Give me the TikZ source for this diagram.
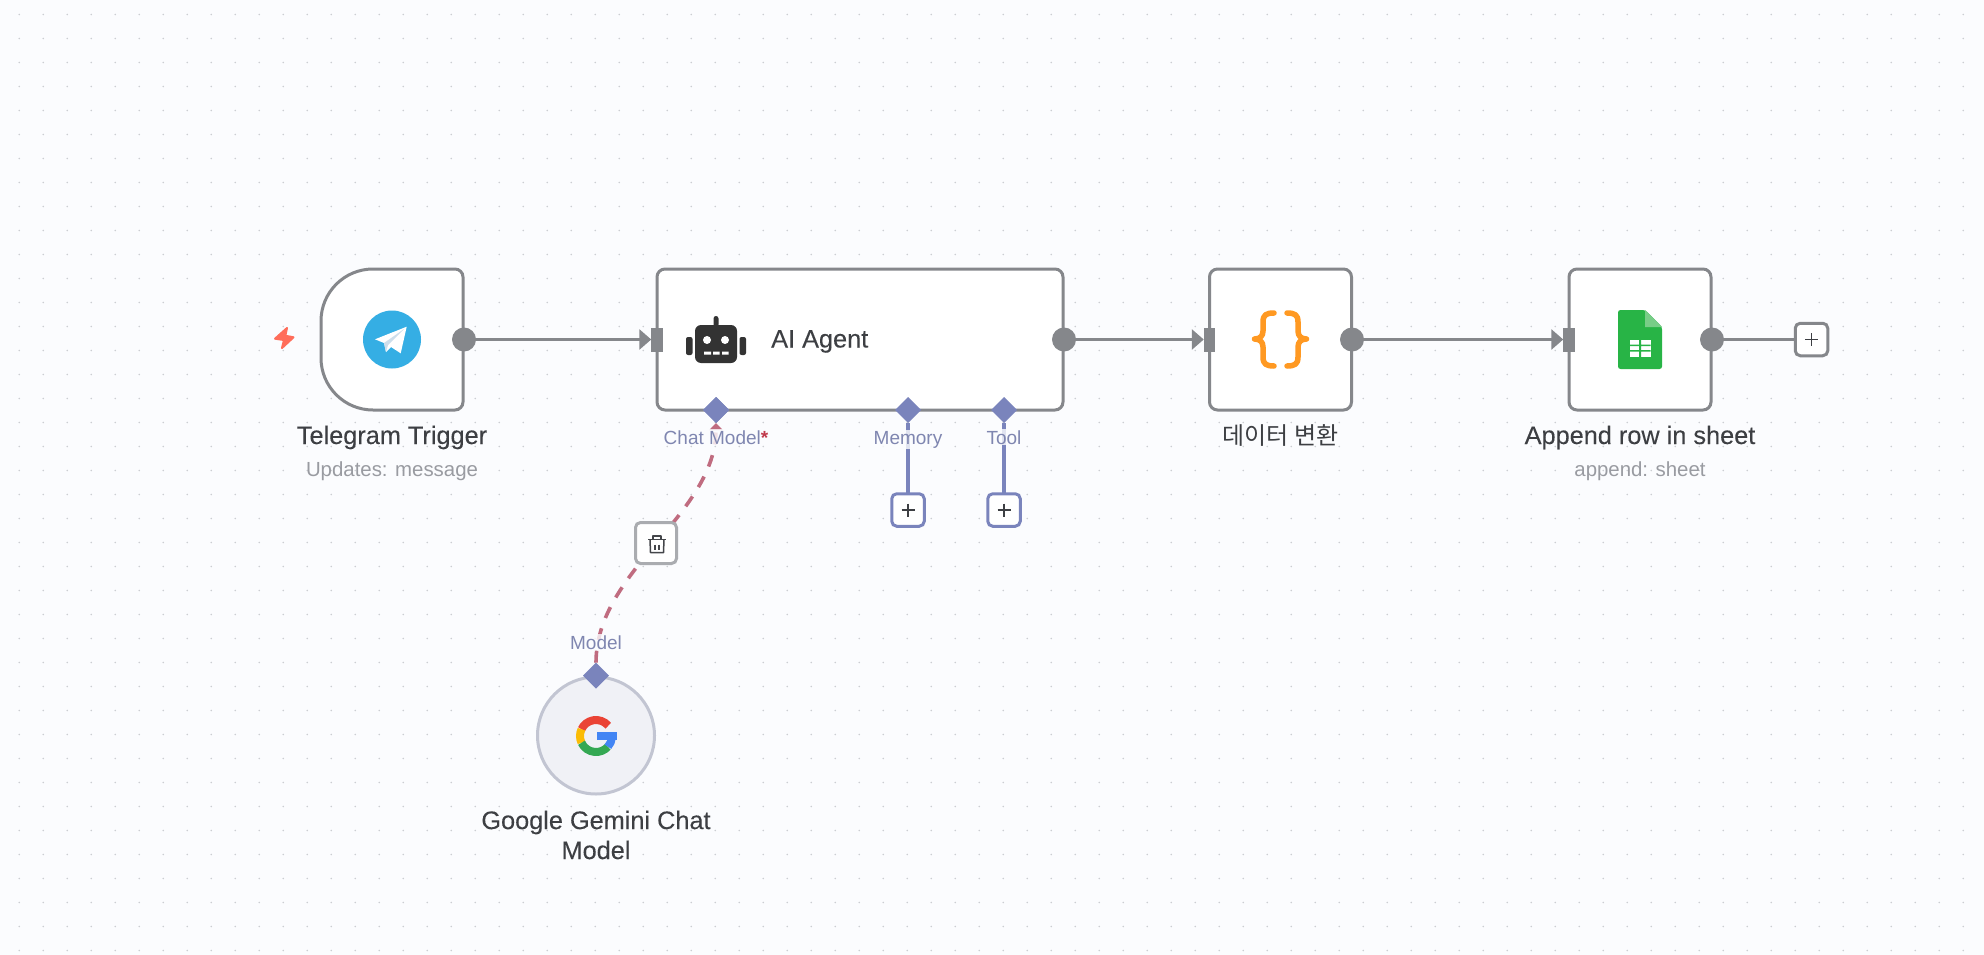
\documentclass[tikz,border=0pt]{standalone}
\usepackage{fontspec}
\setmainfont{Liberation Sans}
\newfontfamily\titlefont[FakeBold=0.08]{Liberation Sans}
\newfontfamily\krfont{Noto Sans CJK KR}
\usetikzlibrary{arrows.meta,shapes.geometric,calc}
\definecolor{bg}{HTML}{FBFCFE}
\definecolor{griddot}{HTML}{CCCED2}
\definecolor{edge}{HTML}{85878B}
\definecolor{purp}{HTML}{7A84BC}
\definecolor{pinkline}{HTML}{C06C80}
\definecolor{txt}{HTML}{3D3F43}
\definecolor{subt}{HTML}{999BA1}
\definecolor{labc}{HTML}{7F86B0}
\definecolor{circf}{HTML}{F0F1F6}
\definecolor{circd}{HTML}{C2C5D2}
\definecolor{trashb}{HTML}{AAACB0}
\definecolor{trashi}{HTML}{44464A}
\definecolor{coral}{HTML}{FF6D5A}
\definecolor{tgblue}{HTML}{35AEE4}
\definecolor{tgfold}{HTML}{CDDEEB}
\definecolor{robot}{HTML}{333333}
\definecolor{brace}{HTML}{FF9922}
\definecolor{sgreen}{HTML}{28B446}
\definecolor{sfold}{HTML}{78CD87}
\definecolor{gred}{HTML}{EA4335}
\definecolor{gyel}{HTML}{FBBC05}
\definecolor{ggrn}{HTML}{34A853}
\definecolor{gblu}{HTML}{4285F4}
\definecolor{reqred}{HTML}{C0394B}
\tikzset{
 nodebox/.style={draw=edge,line width=3pt,fill=white,rounded corners=8pt,minimum height=141pt,inner sep=0pt,outer sep=0pt},
 outdot/.style={circle,fill=edge,minimum size=24pt,inner sep=0pt,outer sep=0pt},
 inport/.style={rectangle,fill=edge,minimum width=11.5pt,minimum height=24pt,inner sep=0pt,outer sep=0pt},
 conn/.style={draw=edge,fill=edge,line width=3.5pt,-{Triangle[length=12pt,width=20pt,fill=edge]}},
 plainline/.style={draw=edge,line width=3.5pt},
 subline/.style={draw=purp,line width=3.5pt},
 diam/.style={diamond,fill=purp,minimum width=26pt,minimum height=26pt,inner sep=0pt,outer sep=0pt,aspect=1},
 plusbox/.style={rectangle,draw=#1,line width=3pt,fill=white,rounded corners=5pt,minimum size=32.5pt,inner sep=0pt,outer sep=0pt},
 title/.style={text=txt,font=\fontsize{25.3}{30}\titlefont,anchor=base,inner sep=0pt},
 subtitle/.style={text=subt,font=\fontsize{20.4}{24}\selectfont,anchor=base,inner sep=0pt},
 portlabel/.style={text=labc,font=\fontsize{19}{23}\selectfont,anchor=base,fill=bg,fill opacity=.8,text opacity=1,inner sep=1pt},
}
\begin{document}
\begin{tikzpicture}[x=1pt,y=-1pt]
\fill[bg] (0,0) rectangle (1984,955);
\useasboundingbox (0,0) rectangle (1984,955);
\foreach \i in {0,...,82}{\foreach \j in {0,...,39}{\fill[griddot] ({19.3+24*\i},{14.5+24*\j}) circle[radius=.85pt];}}

% main nodes
\node[minimum width=142pt,minimum height=141pt,inner sep=0pt,outer sep=0pt] (tg) at (392,339.5) {};
\draw[draw=edge,line width=3pt,fill=white] (tg.north) -- ($(tg.north east)+(-8,0)$) arc[start angle=90,end angle=0,radius=8pt]
 -- ($(tg.south east)+(0,-8)$) arc[start angle=0,end angle=-90,radius=8pt]
 -- ($(tg.south west)+(52,0)$) arc[start angle=270,end angle=180,radius=52pt]
 -- ($(tg.north west)+(0,52)$) arc[start angle=180,end angle=90,radius=52pt] -- cycle;
\node[nodebox,minimum width=406pt] (ag) at (860,339.5) {};
\node[nodebox,minimum width=142pt] (code) at (1280.5,339.5) {};
\node[nodebox,minimum width=142pt] (sheet) at (1640,339.5) {};

% ports
\node[outdot] (tgout) at ([xshift=1pt]tg.east) {};
\node[outdot] (agout) at ([xshift=1pt]ag.east) {};
\node[outdot] (codeout) at ([xshift=.5pt]code.east) {};
\node[outdot] (sheetout) at ([xshift=1pt]sheet.east) {};
\node[inport] (agin) at (ag.west) {};
\node[inport] (codein) at (code.west) {};
\node[inport] (sheetin) at (sheet.west) {};

\draw[conn] (tgout) -- (agin);
\draw[conn] (agout) -- (codein);
\draw[conn] (codeout) -- (sheetin);

\node[plusbox=edge] (plusend) at (1811.5,339.5) {};
\draw[plainline] (sheetout) -- (plusend);
\draw[line width=1.2pt,draw=txt] ($(plusend)+(-6.5,0)$) -- ($(plusend)+(6.5,0)$) ($(plusend)+(0,-6.5)$) -- ($(plusend)+(0,6.5)$);

% sub ports
\node[plusbox=purp] (plusmem) at (908,510) {};
\node[plusbox=purp] (plustool) at (1004,510) {};
\draw[line width=1.2pt,draw=txt] ($(plusmem)+(-6.5,0)$) -- ($(plusmem)+(6.5,0)$) ($(plusmem)+(0,-6.5)$) -- ($(plusmem)+(0,6.5)$);
\draw[line width=1.2pt,draw=txt] ($(plustool)+(-6.5,0)$) -- ($(plustool)+(6.5,0)$) ($(plustool)+(0,-6.5)$) -- ($(plustool)+(0,6.5)$);
\node[diam] (chat) at (716,410) {};
\node[diam] (mem) at (908,410) {};
\node[diam] (tool) at (1004,410) {};
\draw[subline] (mem) -- (plusmem);
\draw[subline] (tool) -- (plustool);

% gemini
\node[circle,draw=circd,fill=circf,line width=3pt,minimum size=117pt,inner sep=0pt,outer sep=0pt] (gem) at (596,735.5) {};
\node[diam] (model) at (596,675.7) {};
\draw[draw=pinkline,line width=3.6pt,dash pattern=on 12pt off 11pt,-{Triangle[length=7pt,width=13pt,fill=pinkline]}] (model.north) .. controls (596,570) and (716,515) .. (chat.south);
\node[diam] (chattop) at (chat) {};
% delete button on the connector
\node[plusbox=trashb,minimum size=41pt] (trash) at (656,543) {};
\begin{scope}[draw=trashi,line width=1.5pt,line join=round]
\draw (648,539.5) -- (666,539.5);
\draw (653.2,539.5) -- (653.2,536) -- (660.8,536) -- (660.8,539.5);
\draw (650,539.5) -- (650.5,552.5) -- (663.5,552.5) -- (664,539.5);
\draw (655,544.5) -- (655,549.5) (659,544.5) -- (659,549.5);
\end{scope}

% labels
\node[portlabel] (lchat) at (716,444) {Chat Model\textcolor{reqred}{\textbf{*}}};
\node[portlabel] (lmem) at (908,444) {Memory};
\node[portlabel] (ltool) at (1004,444) {Tool};
\node[portlabel] (lmodel) at (596,649) {Model};
\node[title] (ttg) at (392,444) {Telegram Trigger};
\node[subtitle] (stg) at (392,476) {Updates: message};
\node[title,anchor=base west] (tag) at (771,347.5) {AI Agent};
\node[title,font=\fontsize{24}{28}\krfont] (tcode) at (1280.5,444) {데이터 변환};
\node[title] (tsheet) at (1640,444) {Append row in sheet};
\node[subtitle] (ssheet) at (1640,476) {append: sheet};
\node[title,anchor=center,align=center] (tgem) at (596,835) {Google Gemini Chat\\Model};

% trigger bolt
\filldraw[draw=coral,fill=coral,line width=2pt,line join=round]
 (287,328) -- (275,338.7) -- (284,340) -- (282,348) -- (293.5,337.3) -- (285.3,335.7) -- cycle;

% telegram icon
\fill[tgblue] (392,339.5) circle[radius=29pt];
\fill[white] (406.7,326.7) -- (375,339.3) -- (384,343) -- (386,352) -- (391,347) -- (400.7,353.3) -- cycle;
\fill[tgfold] (404,329) -- (384,343) -- (386,352) -- (388,345) -- cycle;

% robot icon
\fill[robot,rounded corners=6pt] (695,325) rectangle (737,363);
\fill[robot,rounded corners=2pt] (686,337) rectangle (692.5,355);
\fill[robot,rounded corners=2pt] (739.5,337) rectangle (746,355);
\fill[robot,rounded corners=2.5pt] (713.5,316) rectangle (718.5,327);
\fill[white] (707,340) circle[radius=4pt] (725,340) circle[radius=4pt];
\fill[white] (704,351.5) rectangle (711,354.5) (713,351.5) rectangle (719.5,354.5) (722,351.5) rectangle (728.5,354.5);

% braces icon
\begin{scope}[draw=brace,line width=5.5pt,line cap=round,line join=round]
\draw (1274,313) .. controls (1266,313) and (1263,315) .. (1263,322) -- (1263,331) .. controls (1263,336) and (1260,339) .. (1254.5,339) .. controls (1260,339) and (1263,342) .. (1263,347) -- (1263,357) .. controls (1263,364) and (1266,366) .. (1274,366);
\draw (1287,313) .. controls (1295,313) and (1298,315) .. (1298,322) -- (1298,331) .. controls (1298,336) and (1301,339) .. (1306.5,339) .. controls (1301,339) and (1298,342) .. (1298,347) -- (1298,357) .. controls (1298,364) and (1295,366) .. (1287,366);
\end{scope}

% sheets icon
\fill[sgreen,rounded corners=2.5pt] (1618,310) -- (1645,310) -- (1662,327) -- (1662,369) -- (1618,369) -- cycle;
\fill[sfold] (1645,310) -- (1662,327) -- (1645,327) -- cycle;
\fill[white] (1630,340) rectangle (1650.5,357);
\fill[sgreen] (1639,340) rectangle (1641,357) (1630,344.5) rectangle (1650.5,346) (1630,350) rectangle (1650.5,351.5);

% google G
\begin{scope}[shift={(596,736)},y=1pt,line width=8pt]
\draw[gred] (40:16) arc[start angle=40,end angle=155,radius=16pt];
\draw[gyel] (155:16) arc[start angle=155,end angle=205,radius=16pt];
\draw[ggrn] (205:16) arc[start angle=205,end angle=318,radius=16pt];
\draw[gblu] (318:16) arc[start angle=318,end angle=355,radius=16pt];
\fill[gblu] (1,4.5) rectangle (20.5,-3.5);
\end{scope}
\end{tikzpicture}
\end{document}
